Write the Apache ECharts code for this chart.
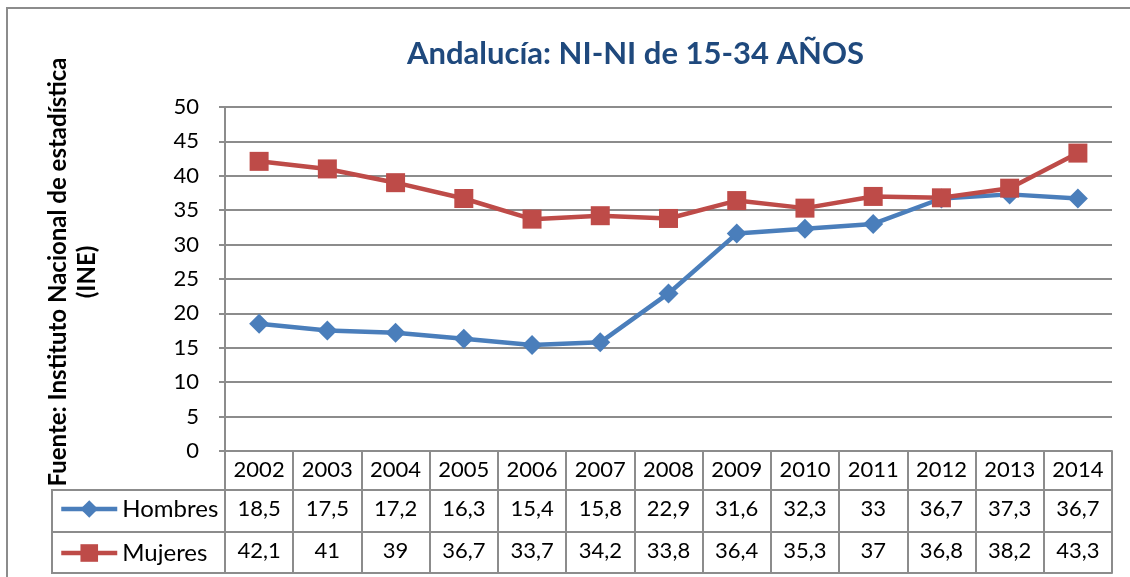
<!DOCTYPE html>
<html>
<head>
<meta charset="utf-8">
<script src="https://cdn.jsdelivr.net/npm/echarts@6/dist/echarts.min.js"></script>
<style>
  html, body { margin: 0; padding: 0; background: #fff; }
  #echart { width: 1130px; height: 577px; }
</style>
</head>
<body>
<div id="echart"></div>
<script>
var years = ['2002', '2003', '2004', '2005', '2006', '2007', '2008', '2009', '2010', '2011', '2012', '2013', '2014'];
var hombres = [18.5, 17.5, 17.2, 16.3, 15.4, 15.8, 22.9, 31.6, 32.3, 33, 36.7, 37.3, 36.7];
var mujeres = [42.1, 41, 39, 36.7, 33.7, 34.2, 33.8, 36.4, 35.3, 37, 36.8, 38.2, 43.3];

var font = 'Lato';
var borde = '#8c8c8c';

function coma(v) {
    return String(v).replace('.', ',');
}

// cada fila de la tabla es un eje x desplazado hacia abajo
function filaTabla(offset, alto, textos) {
    return {
        type: 'category',
        data: years,
        position: 'bottom',
        offset: offset,
        boundaryGap: true,
        axisLine: { show: true, lineStyle: { color: borde, width: 2 } },
        axisTick: { show: true, length: alto, interval: 0, lineStyle: { color: borde, width: 2 } },
        axisLabel: {
            show: textos != null,
            interval: 0,
            margin: 8,
            fontSize: 22,
            fontFamily: font,
            color: '#000',
            formatter: function (v, i) { return textos ? textos[i] : ''; }
        },
        splitLine: { show: false }
    };
}

var myChart = echarts.init(document.getElementById('echart'));
myChart.setOption({
    animation: false,
    title: {
        text: 'Andalucía: NI-NI de 15-34 AÑOS',
        left: 402,
        top: 33,
        textStyle: { fontFamily: font, fontSize: 31, fontWeight: 'bold', color: '#1F497D' }
    },
    grid: { left: 225, right: 18, top: 107, bottom: 126 },
    legend: {
        orient: 'vertical',
        left: 54,
        top: 492,
        itemWidth: 56,
        itemHeight: 22,
        itemGap: 20,
        lineStyle: { width: 4.5 },
        textStyle: { fontFamily: font, fontSize: 24, color: '#000' },
        data: ['Hombres', 'Mujeres']
    },
    xAxis: [
        filaTabla(0, 39, years),
        filaTabla(39, 42, hombres.map(coma)),
        filaTabla(81, 41, mujeres.map(coma)),
        filaTabla(122, 0, null)
    ],
    yAxis: {
        type: 'value',
        min: 0,
        max: 50,
        interval: 5,
        name: 'Fuente: Instituto Nacional de estadística\n(INE)',
        nameLocation: 'middle',
        nameRotate: 90,
        nameGap: 123,
        nameTextStyle: { fontFamily: font, fontSize: 24, fontWeight: 'bold', color: '#000', lineHeight: 29, padding: [0, 0, 0, 14] },
        axisLine: { show: true, lineStyle: { color: borde, width: 2 } },
        axisTick: { show: true, length: 6, lineStyle: { color: borde, width: 2 } },
        axisLabel: { fontFamily: font, fontSize: 22, color: '#000', margin: 26 },
        splitLine: { lineStyle: { color: borde, width: 2 } }
    },
    graphic: [
        { type: 'rect', shape: { x: 7, y: 8, width: 1200, height: 700 }, style: { fill: 'none', stroke: borde, lineWidth: 2 }, silent: true },
        { type: 'polyline', shape: { points: [[225, 490], [52, 490], [52, 573], [225, 573]] }, style: { fill: 'none', stroke: borde, lineWidth: 2 } },
        { type: 'line', shape: { x1: 52, y1: 532, x2: 225, y2: 532 }, style: { stroke: borde, lineWidth: 2 } }
    ],
    series: [
        {
            name: 'Hombres',
            type: 'line',
            xAxisIndex: 0,
            data: hombres,
            symbol: 'diamond',
            symbolSize: 20,
            color: '#4A7EBB',
            lineStyle: { width: 4.5 }
        },
        {
            name: 'Mujeres',
            type: 'line',
            xAxisIndex: 0,
            data: mujeres,
            symbol: 'rect',
            symbolSize: 19,
            color: '#BE4B48',
            lineStyle: { width: 4.5 }
        }
    ]
});
</script>
</body>
</html>
